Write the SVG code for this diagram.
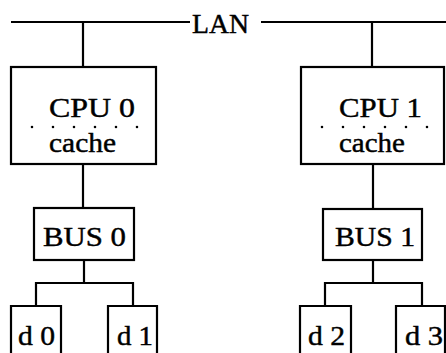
<svg xmlns="http://www.w3.org/2000/svg" width="446" height="353" viewBox="0 0 446 353">
<style>
.box{fill:none;stroke:#000;stroke-width:2.2}
.con{fill:none;stroke:#000;stroke-width:2.2}
.dots{fill:none;stroke:#000;stroke-width:2.6;stroke-linecap:round;stroke-dasharray:0 21}
.t{font-family:'Liberation Serif','DejaVu Serif',serif;font-size:28px;fill:#000;stroke:#000;stroke-width:0.45}
</style>
<rect width="446" height="353" fill="#fff"/>
<g id="lan">
<line class="con" x1="11" y1="22" x2="190" y2="22"/>
<line class="con" x1="261" y1="22" x2="446" y2="22"/>
<text class="t" font-family="Liberation Serif" x="192" y="33" textLength="57" lengthAdjust="spacingAndGlyphs">LAN</text>
</g>
<g id="connectors">
<line class="con" x1="83" y1="22" x2="83" y2="67"/>
<line class="con" x1="372" y1="22" x2="372" y2="67"/>
<line class="con" x1="83" y1="164" x2="83" y2="208"/>
<line class="con" x1="373" y1="164" x2="373" y2="209"/>
<path class="con" d="M84 260 V283 M36 306 V283 H133 V306"/>
<path class="con" d="M373 260 V283 M325 306 V283 H422 V306"/>
</g>
<g id="cpu0">
<rect class="box" x="11" y="67" width="145" height="97"/>
<text class="t" font-family="Liberation Serif" x="49" y="117" textLength="86" lengthAdjust="spacingAndGlyphs">CPU 0</text>
<line class="dots" x1="32" y1="127" x2="138" y2="127"/>
<text class="t" font-family="Liberation Serif" x="49" y="152" textLength="67" lengthAdjust="spacingAndGlyphs">cache</text>
</g>
<g id="cpu1">
<rect class="box" x="301" y="67" width="143" height="97"/>
<text class="t" font-family="Liberation Serif" x="339" y="117" textLength="83" lengthAdjust="spacingAndGlyphs">CPU 1</text>
<line class="dots" x1="322" y1="127" x2="428" y2="127"/>
<text class="t" font-family="Liberation Serif" x="339" y="152" textLength="66" lengthAdjust="spacingAndGlyphs">cache</text>
</g>
<g id="bus0">
<rect class="box" x="34" y="208" width="100" height="52"/>
<text class="t" font-family="Liberation Serif" x="43" y="246" textLength="83" lengthAdjust="spacingAndGlyphs">BUS 0</text>
</g>
<g id="bus1">
<rect class="box" x="323" y="209" width="99" height="51"/>
<text class="t" font-family="Liberation Serif" x="335" y="246" textLength="80" lengthAdjust="spacingAndGlyphs">BUS 1</text>
</g>
<g id="d0">
<path class="box" d="M11 353 V306 H61 V353"/>
<text class="t" font-family="Liberation Serif" x="18" y="345" textLength="37" lengthAdjust="spacingAndGlyphs">d 0</text>
</g>
<g id="d1">
<path class="box" d="M108 353 V306 H157 V353"/>
<text class="t" font-family="Liberation Serif" x="117" y="345" textLength="36" lengthAdjust="spacingAndGlyphs">d 1</text>
</g>
<g id="d2">
<path class="box" d="M300 353 V306 H351 V353"/>
<text class="t" font-family="Liberation Serif" x="308" y="345" textLength="37" lengthAdjust="spacingAndGlyphs">d 2</text>
</g>
<g id="d3">
<path class="box" d="M396 353 V306 H445 V353"/>
<text class="t" font-family="Liberation Serif" x="405" y="345" textLength="38" lengthAdjust="spacingAndGlyphs">d 3</text>
</g>
</svg>
